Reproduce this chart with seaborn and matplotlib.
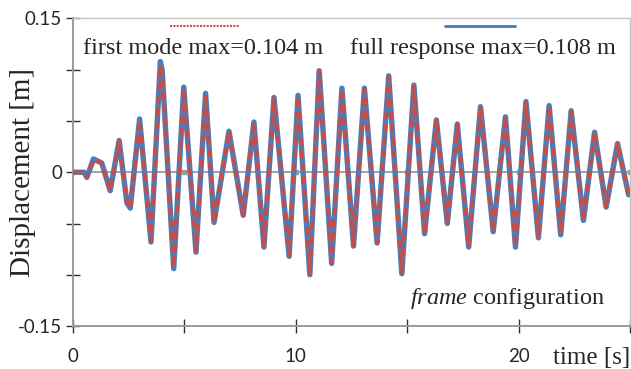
import matplotlib
matplotlib.use('Agg')
import pandas as pd
import seaborn as sns
from matplotlib import pyplot as plt
from matplotlib.lines import Line2D

# time [s] of the turning points
time_s = [0.0, 0.5, 0.62, 0.92, 1.29, 1.67, 2.07, 2.42, 2.57, 2.99, 3.50,
          3.92, 4.00, 4.52, 4.97, 5.52, 5.95, 6.33, 7.00, 7.64, 8.12, 8.57,
          9.02, 9.70, 10.10, 10.63, 11.05, 11.61, 12.07, 12.59, 13.08, 13.65,
          14.17, 14.76, 15.30, 15.78, 16.31, 16.80, 17.25, 17.76, 18.29, 18.86,
          19.41, 19.86, 20.33, 20.89, 21.37, 21.89, 22.36, 22.91, 23.41, 23.93,
          24.44, 24.94, 25.0]

# full response displacement [m]
full_response = [0.0, 0.0, -0.005, 0.013, 0.009, -0.018, 0.031, -0.030, -0.035, 0.052, -0.068,
                 0.108, 0.100, -0.094, 0.083, -0.078, 0.077, -0.049, 0.040, -0.042, 0.049, -0.073,
                 0.073, -0.082, 0.075, -0.100, 0.099, -0.089, 0.082, -0.072, 0.082, -0.069,
                 0.094, -0.099, 0.085, -0.060, 0.051, -0.050, 0.047, -0.073, 0.064, -0.058,
                 0.054, -0.073, 0.069, -0.064, 0.065, -0.061, 0.060, -0.047, 0.039, -0.034,
                 0.028, -0.022, -0.021]

# first mode displacement [m]
first_mode = [0.0, 0.0, -0.005, 0.012, 0.009, -0.018, 0.030, -0.030, -0.035, 0.051, -0.067,
              0.104, 0.098, -0.093, 0.082, -0.077, 0.076, -0.049, 0.040, -0.042, 0.049, -0.072,
              0.072, -0.081, 0.074, -0.099, 0.098, -0.088, 0.081, -0.072, 0.081, -0.069,
              0.093, -0.098, 0.084, -0.060, 0.051, -0.050, 0.047, -0.072, 0.064, -0.058,
              0.054, -0.072, 0.068, -0.063, 0.064, -0.060, 0.059, -0.047, 0.039, -0.034,
              0.028, -0.022, -0.021]

x_ticks = [0, 5, 10, 15, 20, 25]
x_tick_labels = ['0', '', '10', '', '20', '']
y_ticks = [-0.15, 0, 0.15]
y_tick_labels = ['-0.15', '0', '0.15']
y_minor = [-0.1, -0.05, 0.05, 0.1]

BLUE = '#4a7ebb'
RED = '#c0504d'
GREY = '#9a9a9a'


def main():
    sns.set_style('white')
    plt.rcParams['font.family'] = ['Liberation Serif', 'DejaVu Serif']
    plt.rcParams['mathtext.fontset'] = 'custom'
    plt.rcParams['mathtext.rm'] = 'Liberation Serif'
    plt.rcParams['mathtext.it'] = 'Liberation Serif:italic'

    df = pd.DataFrame({'t': time_s, 'full': full_response, 'mode1': first_mode})

    fig = plt.figure(figsize=(6.31, 3.69), dpi=100)
    ax = fig.add_axes([0.1157, 0.1165, 0.8827, 0.8334])

    """zero line with its little marks"""
    ax.axhline(0, color=GREY, lw=1.3, zorder=1)
    ax.plot(x_ticks, [0] * len(x_ticks), 's', ms=2.2, color=GREY, zorder=1)

    """the two curves"""
    sns.lineplot(data=df, x='t', y='full', ax=ax, color=BLUE, lw=3.9,
                 estimator=None, sort=False, zorder=2, solid_joinstyle='round')
    sns.lineplot(data=df, x='t', y='mode1', ax=ax, color=RED, lw=2.8,
                 linestyle=(0, (2.2, 1.1)), estimator=None, sort=False, zorder=3,
                 dash_joinstyle='round')

    ax.set_xlim(0, 25)
    ax.set_ylim(-0.15, 0.15)

    ax.set_xticks(x_ticks)
    ax.set_xticklabels(x_tick_labels, family='Lato', fontsize=13.5)
    ax.set_yticks(y_ticks)
    ax.set_yticklabels(y_tick_labels, family='Lato', fontsize=13.5)
    ax.set_yticks(y_minor, minor=True)
    ax.tick_params(axis='x', bottom=True, direction='inout', length=10, width=1,
                   color='#303030', pad=11)
    ax.tick_params(axis='y', which='both', left=True, direction='inout', length=10,
                   width=1, color='#303030', pad=3)

    for s in ['left', 'bottom']:
        ax.spines[s].set_color(GREY)
        ax.spines[s].set_linewidth(1.4)
    for s in ['top', 'right']:
        ax.spines[s].set_color('#c4c4c4')
        ax.spines[s].set_linewidth(1.0)

    ax.set_xlabel('')
    ax.set_ylabel('Displacement [m]', fontsize=21)
    ax.yaxis.label.set_va('center')
    ax.yaxis.set_label_coords(-0.09, 0.5)

    """texts"""
    ax.text(0.018, 0.886, 'first mode max=0.104 m', transform=ax.transAxes,
            fontsize=17.5, va='baseline')
    ax.text(0.497, 0.886, 'full response max=0.108 m', transform=ax.transAxes,
            fontsize=17.5, va='baseline')
    ax.text(0.955, 0.071, r'$\mathit{frame}$ configuration', transform=ax.transAxes,
            fontsize=17.5, va='baseline', ha='right')
    ax.text(1.0, -0.123, 'time [s]', transform=ax.transAxes, fontsize=18,
            va='baseline', ha='right')

    """legend keys above the texts"""
    keys = [(Line2D([], [], color=RED, lw=1.5, linestyle=(0, (1, 0.6))), 0.325),
            (Line2D([], [], color=BLUE, lw=1.8), 0.761)]
    for handle, xc in keys:
        leg = ax.legend([handle], [''], loc='center', bbox_to_anchor=(xc, 0.927),
                        bbox_transform=fig.transFigure, frameon=False, handlelength=5,
                        handletextpad=0, borderpad=0, borderaxespad=0)
        ax.add_artist(leg)

    fig.savefig('out.png', dpi=100)


if __name__ == '__main__':
    main()
